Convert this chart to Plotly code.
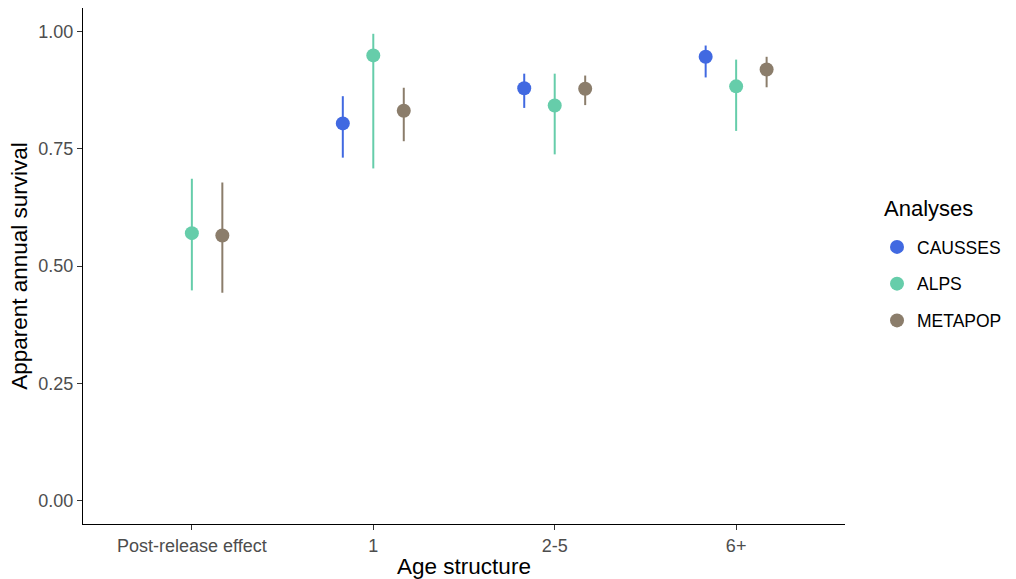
import plotly.graph_objects as go

categories = ["Post-release effect", "1", "2-5", "6+"]
series = ["CAUSSES", "ALPS", "METAPOP"]
colors = {"CAUSSES": "#4169E1", "ALPS": "#66CDAA", "METAPOP": "#8B7D6B"}

# None = no estimate for that category
causses_est = [None, 0.804, 0.879, 0.946]
causses_lo = [None, 0.731, 0.837, 0.902]
causses_hi = [None, 0.862, 0.910, 0.970]

alps_est = [0.570, 0.949, 0.842, 0.883]
alps_lo = [0.448, 0.708, 0.738, 0.788]
alps_hi = [0.686, 0.995, 0.910, 0.940]

metapop_est = [0.565, 0.831, 0.878, 0.919]
metapop_lo = [0.443, 0.766, 0.843, 0.881]
metapop_hi = [0.678, 0.880, 0.906, 0.946]

data = {
    "CAUSSES": (causses_est, causses_lo, causses_hi),
    "ALPS": (alps_est, alps_lo, alps_hi),
    "METAPOP": (metapop_est, metapop_lo, metapop_hi),
}
dodge = {"CAUSSES": -0.168, "ALPS": 0.0, "METAPOP": 0.168}

fig = go.Figure()
for name in series:
    est, lo, hi = data[name]
    xs, ys, up, dn = [], [], [], []
    for i, v in enumerate(est):
        if v is None:
            continue
        xs.append(i + 1 + dodge[name])
        ys.append(v)
        up.append(hi[i] - v)
        dn.append(v - lo[i])
    fig.add_trace(go.Scatter(
        x=xs, y=ys, mode="markers", name=name, legendgroup=name,
        marker=dict(color=colors[name], size=14),
        error_y=dict(type="data", symmetric=False, array=up, arrayminus=dn,
                     color=colors[name], thickness=2, width=0),
    ))

fig.update_layout(
    width=1016, height=579,
    margin=dict(l=83, r=171, t=8, b=55),
    plot_bgcolor="white", paper_bgcolor="white",
    font=dict(family="Liberation Sans, Arial, sans-serif"),
    legend=dict(
        font=dict(size=17.5, color="black"),
        x=1.042, xanchor="left", y=0.5717, yanchor="top",
        tracegroupgap=11,
    ),
    showlegend=True,
    annotations=[dict(
        text="Analyses", x=1.0486, xref="paper", xanchor="left",
        y=0.6124, yref="paper", yanchor="middle", showarrow=False,
        font=dict(size=22, color="black"),
    )],
)
fig.update_xaxes(
    range=[0.4, 4.6], tickvals=[1, 2, 3, 4], ticktext=categories,
    showline=True, linecolor="black", linewidth=1.3, mirror=False,
    ticks="outside", ticklen=5, tickcolor="#333333",
    tickfont=dict(size=18, color="#4D4D4D"),
    showgrid=False, zeroline=False, automargin=False,
    title=dict(text="Age structure", font=dict(size=22.5, color="black"), standoff=4),
)
fig.update_yaxes(
    range=[-0.05, 1.05], tickvals=[0, 0.25, 0.5, 0.75, 1.0],
    ticktext=["0.00", "0.25", "0.50", "0.75", "1.00"],
    showline=True, linecolor="black", linewidth=1.3,
    ticks="outside", ticklen=5, tickcolor="#333333",
    tickfont=dict(size=18, color="#4D4D4D"),
    showgrid=False, zeroline=False, automargin=False,
    title=dict(text="Apparent annual survival", font=dict(size=22.5, color="black"), standoff=4),
)

fig.write_html("out.html", config={"displayModeBar": False},
               post_script="document.body.style.margin='0';")
